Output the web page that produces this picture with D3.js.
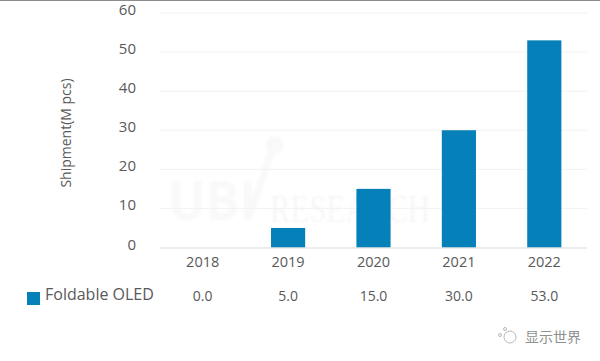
<!DOCTYPE html>
<html><head><meta charset="utf-8">
<script src="https://cdn.jsdelivr.net/npm/d3@7"></script>
<style>html,body{margin:0;padding:0;background:#fff}svg{display:block}text{font-family:"Open Sans","Noto Sans",sans-serif;fill:#595959}</style>
</head><body><svg id="c" width="600" height="361"></svg>
<script>
const years=["2018","2019","2020","2021","2022"];
const shipment=[0,5,15,30,53];
const tableLabels=["0.0","5.0","15.0","30.0","53.0"];
const yTicks=[0,10,20,30,40,50,60];
const seriesName="Foldable OLED";
const yTitle="Shipment(M pcs)";
const svg=d3.select("#c");
const x=d3.scaleBand().domain(years).range([160,587]).paddingInner(0.6).paddingOuter(0.3);
const y=d3.scaleLinear().domain([0,60]).range([247.5,13]);
svg.append("rect").attr("x",0).attr("y",0).attr("width",600).attr("height",1).attr("fill","#8c8c8c");
// watermark
const wm=svg.append("g").style("filter","blur(1px)");
wm.append("text").attr("x",168).attr("y",220).attr("font-size",54).attr("font-weight",700).attr("textLength",88).attr("lengthAdjust","spacingAndGlyphs").style("fill","#f9f9f9").text("UBI");
wm.append("text").attr("x",270).attr("y",222).attr("font-size",40).attr("textLength",160).attr("lengthAdjust","spacingAndGlyphs").style("font-family","'Liberation Serif',serif").style("fill","#f6f6f6").text("RESEARCH");
wm.append("circle").attr("cx",275).attr("cy",145).attr("r",9).attr("fill","#f9f9f9");
wm.append("line").attr("x1",272).attr("y1",150).attr("x2",250).attr("y2",215).attr("stroke","#f9f9f9").attr("stroke-width",7);
// grid
svg.append("g").selectAll("line").data(yTicks.slice(1)).join("line")
 .attr("x1",160).attr("x2",587).attr("y1",d=>y(d)).attr("y2",d=>y(d)).attr("stroke","#f2f2f2").attr("stroke-width",1);
// bars
svg.append("g").selectAll("rect").data(years).join("rect")
 .attr("x",d=>x(d)).attr("width",x.bandwidth())
 .attr("y",(d,i)=>y(shipment[i])).attr("height",(d,i)=>y(0)-y(shipment[i])).attr("fill","#0580b8");
// baseline
svg.append("line").attr("x1",160).attr("x2",587).attr("y1",y(0)+.5).attr("y2",y(0)+.5).attr("stroke","#d9d9d9").attr("stroke-width",1.2);
// y labels
svg.append("g").selectAll("text").data(yTicks).join("text")
 .attr("x",136).attr("y",d=>y(d)+2).attr("text-anchor","end").attr("font-size",15).text(d=>d);
svg.append("text").attr("transform","translate(71,133) rotate(-90)").attr("text-anchor","middle").attr("font-size",14).text(yTitle);
// x labels
svg.append("g").selectAll("text").data(years).join("text")
 .attr("x",d=>x(d)+x.bandwidth()/2).attr("y",267).attr("text-anchor","middle").attr("font-size",14.5).text(d=>d);
// table
svg.append("g").selectAll("text").data(tableLabels).join("text")
 .attr("x",(d,i)=>x(years[i])+x.bandwidth()/2).attr("y",300.5).attr("text-anchor","middle").attr("font-size",14).text(d=>d);
svg.append("rect").attr("x",27).attr("y",292).attr("width",13).attr("height",13).attr("fill","#0580b8");
svg.append("text").attr("x",45).attr("y",300).attr("font-size",16).text(seriesName);
// wechat mark
svg.append("text").attr("x",525).attr("y",342).attr("font-size",14).style("font-family","'Noto Sans CJK SC'").style("fill","#8f8f8f").text("显示世界");
const w=svg.append("g").attr("fill","none").attr("stroke","#b8b8b8").attr("stroke-width",1);
w.append("circle").attr("cx",510).attr("cy",337).attr("r",6);
w.append("circle").attr("cx",500).attr("cy",335).attr("r",1.5);
w.append("circle").attr("cx",505).attr("cy",329).attr("r",1.5);
</script></body></html>
